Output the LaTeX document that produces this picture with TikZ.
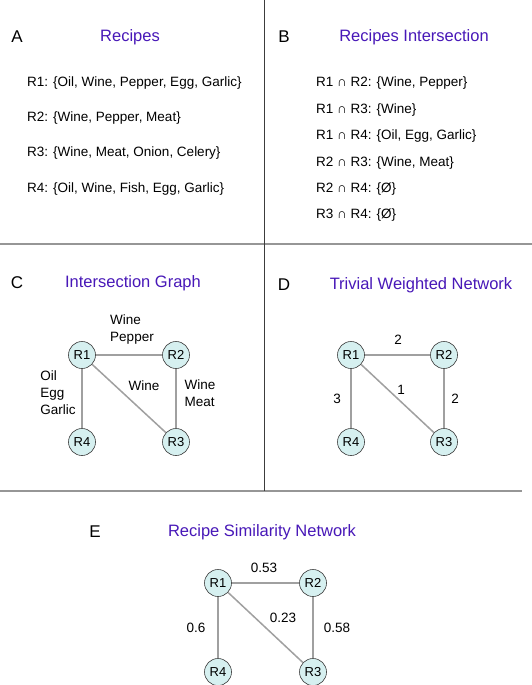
\documentclass[tikz,border=0pt]{standalone}
\usepackage{fontspec}
\setmainfont{Liberation Sans}
\usepackage{tikz}
\definecolor{titleblue}{RGB}{72,24,184}
\definecolor{nodefill}{RGB}{214,240,240}
\definecolor{edgegray}{RGB}{160,160,160}
\definecolor{rulegray}{RGB}{150,150,150}
\definecolor{ruledark}{RGB}{60,60,60}

\begin{document}
\begin{tikzpicture}[x=1pt, y=-1pt,
  recipe/.style={circle, draw=ruledark, line width=0.6pt, fill=nodefill,
    minimum size=27pt, inner sep=0pt, font=\fontsize{13}{15}\selectfont},
  link/.style={draw=edgegray, line width=1.5pt},
  panel/.style={font=\fontsize{17}{20}\selectfont},
  heading/.style={text=titleblue, font=\fontsize{16.5}{20}\selectfont},
  txt/.style={anchor=west, inner sep=0pt, font=\fontsize{13.5}{17}\selectfont},
  lbl/.style={align=left, inner sep=0pt, font=\fontsize{13.5}{17}\selectfont}]
\useasboundingbox (0,0) rectangle (532,685);
\fill[white] (0,0) rectangle (532,685);

% panel borders
\coordinate (vt) at (264,0);
\coordinate (vb) at (264,491);
\coordinate (h1l) at (0,244);
\coordinate (h1r) at (532,244);
\coordinate (h2l) at (0,491);
\coordinate (h2r) at (522,491);
\draw[rulegray, line width=1.5pt] (h1l) -- (h1r);
\draw[rulegray, line width=1.5pt] (h2l) -- (h2r);
\draw[ruledark, line width=1pt] (vt) -- (vb);

% A
\node[panel] (pa) at (17,37) {A};
\node[heading] (ta) at (130,37) {Recipes};
\node[txt] (a1) at (27,83) {R1: \{Oil, Wine, Pepper, Egg, Garlic\}};
\node[txt] (a2) at (27,118) {R2: \{Wine, Pepper, Meat\}};
\node[txt] (a3) at (27,153) {R3: \{Wine, Meat, Onion, Celery\}};
\node[txt] (a4) at (27,189) {R4: \{Oil, Wine, Fish, Egg, Garlic\}};

% B
\node[panel] (pb) at (284,37) {B};
\node[heading] (tb) at (414,37) {Recipes Intersection};
\node[txt] (b1) at (316,83) {R1 ∩ R2: \{Wine, Pepper\}};
\node[txt] (b2) at (316,110) {R1 ∩ R3: \{Wine\}};
\node[txt] (b3) at (316,136) {R1 ∩ R4: \{Oil, Egg, Garlic\}};
\node[txt] (b4) at (316,163) {R2 ∩ R3: \{Wine, Meat\}};
\node[txt] (b5) at (316,189) {R2 ∩ R4: \{Ø\}};
\node[txt] (b6) at (316,215) {R3 ∩ R4: \{Ø\}};

% C
\node[panel] (pc) at (17,283) {C};
\node[heading] (tc) at (133,283) {Intersection Graph};
\node[recipe] (c1) at (82,355) {R1};
\node[recipe] (c2) at (176,355) {R2};
\node[recipe] (c3) at (176,442) {R3};
\node[recipe] (c4) at (82,442) {R4};
\draw[link] (c1) -- (c2);
\draw[link] (c1) -- (c4);
\draw[link] (c1) -- (c3);
\draw[link] (c2) -- (c3);
\node[lbl] (c12) at (132,330) {Wine\\Pepper};
\node[lbl] (c14) at (58,393) {Oil\\Egg\\Garlic};
\node[lbl] (c13) at (144,386) {Wine};
\node[lbl] (c23) at (200,393) {Wine\\Meat};

% D
\node[panel] (pd) at (284,285) {D};
\node[heading] (td) at (421,285) {Trivial Weighted Network};
\node[recipe] (d1) at (351,355) {R1};
\node[recipe] (d2) at (444,355) {R2};
\node[recipe] (d3) at (444,442) {R3};
\node[recipe] (d4) at (351,442) {R4};
\draw[link] (d1) -- (d2);
\draw[link] (d1) -- (d4);
\draw[link] (d1) -- (d3);
\draw[link] (d2) -- (d3);
\node[lbl] (d12) at (398,340) {2};
\node[lbl] (d13) at (401,390) {1};
\node[lbl] (d14) at (337,399) {3};
\node[lbl] (d23) at (455,399) {2};

% E
\node[panel] (pe) at (95,532) {E};
\node[heading] (te) at (262,532) {Recipe Similarity Network};
\node[recipe] (e1) at (218,583) {R1};
\node[recipe] (e2) at (313,583) {R2};
\node[recipe] (e3) at (313,672) {R3};
\node[recipe] (e4) at (218,672) {R4};
\draw[link] (e1) -- (e2);
\draw[link] (e1) -- (e4);
\draw[link] (e1) -- (e3);
\draw[link] (e2) -- (e3);
\node[lbl] (e12) at (264,568) {0.53};
\node[lbl] (e13) at (283,618) {0.23};
\node[lbl] (e14) at (196,628) {0.6};
\node[lbl] (e23) at (337,628) {0.58};
\end{tikzpicture}
\end{document}
